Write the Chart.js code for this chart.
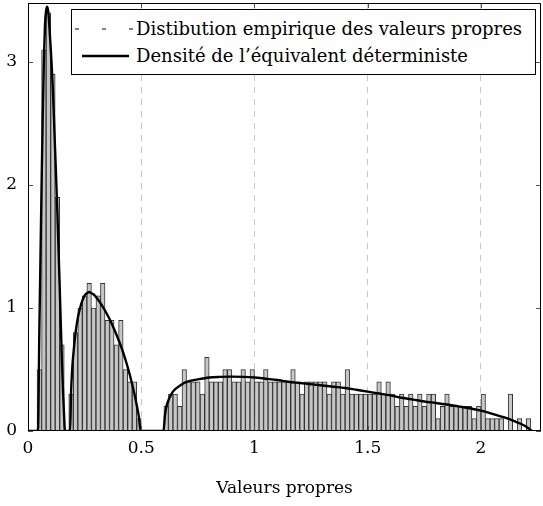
<!DOCTYPE html>
<html lang="fr">
<head>
<meta charset="utf-8">
<title>Valeurs propres</title>
<script src="https://cdn.jsdelivr.net/npm/chart.js@4.4.1/dist/chart.umd.min.js"></script>
<style>
    html, body { margin: 0; padding: 0; background: #fff; }
    .wrap { position: relative; width: 543px; height: 506px; }
    .legend-box {
        position: absolute; left: 71px; top: 9px; width: 463px; height: 64px;
        border: 1px solid #000; background: #fff;
        font-family: 'DejaVu Serif', serif; font-size: 18px; color: #000;
    }
    .legend-row { position: absolute; left: 0; height: 24px; line-height: 24px; white-space: nowrap; }
    .legend-row svg { position: absolute; top: 7px; }
    .legend-row span { position: absolute; left: 64px; }
</style>
</head>
<body>
<div class="wrap">
    <canvas id="eigChart" width="543" height="506"></canvas>
    <div class="legend-box" id="legendBox"></div>
</div>
<script>
// Histogram: bins of width 0.02 starting at 0, heights are normalised densities
const binWidth = 0.02;
const histHeights = [
    0, 0, 0.5, 3.1, 3.4, 2.9, 1.9, 0.7, 0, 0.3,
    0.8, 1.0, 1.1, 1.2, 1.0, 1.1, 1.2, 0.9, 0.9, 0.7,
    0.9, 0.5, 0.4, 0.4, 0.1, 0, 0, 0, 0, 0,
    0.2, 0.3, 0.3, 0.2, 0.5, 0.4, 0.4, 0.4, 0.3, 0.6,
    0.4, 0.4, 0.4, 0.5, 0.5, 0.4, 0.4, 0.5, 0.4, 0.5,
    0.4, 0.4, 0.5, 0.4, 0.4, 0.4, 0.4, 0.4, 0.5, 0.4,
    0.3, 0.4, 0.4, 0.4, 0.4, 0.4, 0.3, 0.4, 0.4, 0.3,
    0.5, 0.3, 0.3, 0.3, 0.3, 0.3, 0.3, 0.4, 0.3, 0.4,
    0.3, 0.2, 0.3, 0.2, 0.3, 0.2, 0.3, 0.2, 0.3, 0.3,
    0.1, 0.2, 0.3, 0.2, 0.2, 0.2, 0.2, 0.2, 0.1, 0.2,
    0.3, 0.1, 0.1, 0.1, 0.1, 0, 0.3, 0, 0.1, 0, 0.1
];

// Deterministic equivalent density
const densityX = [
    0, 0.044, 0.05, 0.055, 0.06, 0.065, 0.07, 0.075, 0.08, 0.085, 0.09, 0.095,
    0.10, 0.105, 0.11, 0.115, 0.12, 0.125, 0.13, 0.135, 0.14, 0.145, 0.15, 0.155, 0.16, 0.163,
    0.186, 0.19, 0.195, 0.20, 0.21, 0.22, 0.23, 0.24, 0.25, 0.26, 0.27, 0.28, 0.29, 0.30,
    0.32, 0.34, 0.36, 0.38, 0.40, 0.42, 0.44, 0.46, 0.47, 0.48, 0.49, 0.497,
    0.598, 0.605, 0.61, 0.62, 0.63, 0.64, 0.65, 0.66, 0.68, 0.70, 0.75, 0.80, 0.85, 0.90, 0.95,
    1.00, 1.05, 1.10, 1.15, 1.20, 1.25, 1.30, 1.35, 1.40, 1.45, 1.50, 1.55, 1.60, 1.65,
    1.70, 1.75, 1.80, 1.85, 1.90, 1.95, 2.00, 2.05, 2.10, 2.15, 2.18, 2.20, 2.215, 2.225
];
const densityY = [
    0, 0, 0.8, 1.4, 2.0, 2.55, 3.0, 3.3, 3.42, 3.45, 3.4, 3.27,
    3.12, 2.96, 2.77, 2.52, 2.27, 2.02, 1.76, 1.47, 1.17, 0.86, 0.56, 0.3, 0.1, 0,
    0, 0.3, 0.5, 0.62, 0.8, 0.92, 1.0, 1.06, 1.1, 1.12, 1.13, 1.12, 1.11, 1.09,
    1.04, 0.98, 0.91, 0.83, 0.74, 0.64, 0.52, 0.38, 0.3, 0.21, 0.11, 0,
    0, 0.13, 0.19, 0.25, 0.29, 0.32, 0.34, 0.355, 0.38, 0.40, 0.42, 0.435, 0.44, 0.442, 0.44,
    0.435, 0.425, 0.415, 0.40, 0.39, 0.38, 0.37, 0.36, 0.35, 0.335, 0.32, 0.305, 0.29, 0.27,
    0.255, 0.24, 0.228, 0.215, 0.2, 0.185, 0.165, 0.14, 0.112, 0.078, 0.055, 0.035, 0.015, 0
];

// Axis ticks
const xTicks = [0, 0.5, 1, 1.5, 2];
const yTicks = [0, 1, 2, 3];
const xMax = 2.265;
const yMax = 3.48;

const histLabel = 'Distibution empirique des valeurs propres';
const densityLabel = 'Densité de l’équivalent déterministe';
const xTitle = 'Valeurs propres';

const histPoints = histHeights.map((h, i) => ({ x: (i + 0.5) * binWidth, y: h }));
const densityPoints = densityX.map((x, i) => ({ x: x, y: densityY[i] }));

// Frame around the plot + inward tick marks (pgfplots style)
const frameTicks = {
    id: 'frameTicks',
    afterDatasetsDraw(chart) {
        const { ctx, chartArea: a, scales: { x, y } } = chart;
        ctx.save();
        ctx.strokeStyle = '#555';
        ctx.lineWidth = 1;
        ctx.beginPath();
        xTicks.forEach(v => {
            const px = Math.round(x.getPixelForValue(v)) + 0.5;
            ctx.moveTo(px, a.bottom); ctx.lineTo(px, a.bottom - 5);
            ctx.moveTo(px, a.top); ctx.lineTo(px, a.top + 5);
        });
        yTicks.forEach(v => {
            const py = Math.round(y.getPixelForValue(v)) + 0.5;
            ctx.moveTo(a.left, py); ctx.lineTo(a.left + 5, py);
            ctx.moveTo(a.right, py); ctx.lineTo(a.right - 5, py);
        });
        ctx.stroke();
        ctx.strokeStyle = '#000';
        ctx.strokeRect(a.left + 0.5, a.top + 0.5, a.width - 1, a.height - 1);
        ctx.restore();
    }
};

Chart.defaults.font.family = "'DejaVu Serif', serif";
Chart.defaults.font.size = 17;
Chart.defaults.color = '#000';

const ctx = document.getElementById('eigChart').getContext('2d');
new Chart(ctx, {
    type: 'bar',
    data: {
        datasets: [{
            type: 'line',
            label: densityLabel,
            data: densityPoints,
            borderColor: '#000',
            borderWidth: 2.4,
            pointRadius: 0,
            cubicInterpolationMode: 'monotone',
            fill: false,
            order: 0
        }, {
            type: 'bar',
            label: histLabel,
            data: histPoints,
            backgroundColor: '#c6c6c6',
            borderColor: '#333',
            borderWidth: 1,
            barPercentage: 1,
            categoryPercentage: 1,
            grouped: false,
            order: 1
        }]
    },
    options: {
        responsive: false,
        animation: false,
        layout: { padding: { top: 3, right: 2, left: 0, bottom: 0 } },
        plugins: { legend: { display: false }, tooltip: { enabled: false } },
        scales: {
            x: {
                type: 'linear',
                min: 0,
                max: xMax,
                offset: false,
                afterFit: scale => { scale.height = 75; scale.paddingLeft = 0; scale.paddingRight = 0; },
                afterBuildTicks: scale => { scale.ticks = xTicks.map(v => ({ value: v })); },
                ticks: { padding: 7, maxRotation: 0, callback: v => String(v) },
                grid: { color: '#c8c8c8', lineWidth: 1, drawTicks: false, offset: false },
                border: { display: false, dash: [6, 6] },
                title: { display: true, text: xTitle, padding: { top: 4, bottom: 7 } }
            },
            y: {
                min: 0,
                max: yMax,
                afterFit: scale => { scale.width = 28; scale.paddingTop = 0; scale.paddingBottom = 0; },
                afterBuildTicks: scale => { scale.ticks = yTicks.map(v => ({ value: v })); },
                ticks: { padding: 11, callback: v => String(v) },
                grid: { display: false, drawTicks: false },
                border: { display: false }
            }
        }
    },
    plugins: [frameTicks]
});

// HTML legend, drawn inside the plot like the pgfplots legend
const legendBox = document.getElementById('legendBox');
legendBox.innerHTML =
    '<div class="legend-row" style="top:7px;width:100%">' +
        '<svg width="60" height="10" style="left:3px"><line x1="0" y1="5" x2="59" y2="5" stroke="#000" stroke-width="1" stroke-dasharray="4 23"/></svg>' +
        '<span>' + histLabel + '</span></div>' +
    '<div class="legend-row" style="top:34px;width:100%">' +
        '<svg width="60" height="10" style="left:10px"><line x1="0" y1="5" x2="47" y2="5" stroke="#000" stroke-width="2.6"/></svg>' +
        '<span>' + densityLabel + '</span></div>';
</script>
</body>
</html>
